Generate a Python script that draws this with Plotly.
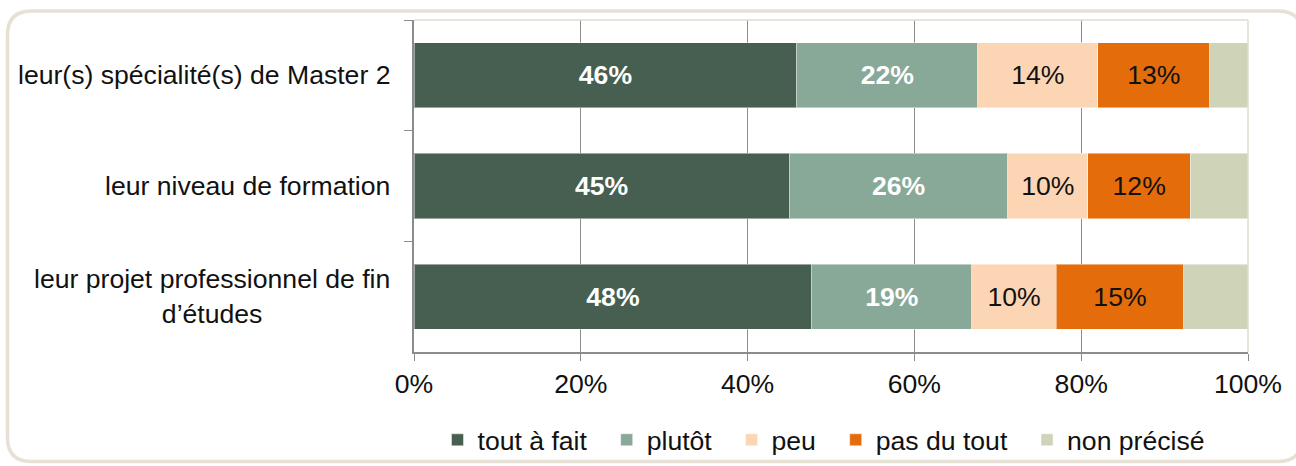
import plotly.graph_objects as go

# ---- data ----
categories = [
    "leur(s) spécialité(s) de Master 2",
    "leur niveau de formation",
    "leur projet professionnel de fin d’études",
]
category_labels = [
    "leur(s) spécialité(s) de Master 2",
    "leur niveau de formation",
    "leur projet professionnel de fin<br>d’études",
]
series_names = ["tout à fait", "plutôt", "peu", "pas du tout", "non précisé"]
tout_a_fait = [45.9, 45.0, 47.7]
plutot = [21.7, 26.2, 19.2]
peu = [14.4, 9.6, 10.1]
pas_du_tout = [13.4, 12.3, 15.3]
non_precise = [4.6, 6.9, 7.7]
x_tick_values = [0, 20, 40, 60, 80, 100]
x_tick_labels = ["0%", "20%", "40%", "60%", "80%", "100%"]

# ---- styles ----
series_values = [tout_a_fait, plutot, peu, pas_du_tout, non_precise]
colors = ["#465f50", "#88a898", "#fcd5b5", "#e46c0a", "#cfd4b9"]
label_colors = ["white", "white", "#111111", "#111111", None]
label_weights = ["bold", "bold", "normal", "normal", "normal"]

FONT = "Liberation Sans, Arial, sans-serif"
FS = 26.6
W, H = 1296, 466
ML, MR, MT, MB = 414, 48, 20, 114
PW, PH = W - ML - MR, H - MT - MB
LEGEND_PAD = "\u00a0\u00a0"

fig = go.Figure()
for name, vals, col, lc, lw in zip(series_names, series_values, colors, label_colors, label_weights):
    fig.add_trace(go.Bar(
        y=categories, x=vals, name=name + LEGEND_PAD, orientation="h",
        marker=dict(color=col, line=dict(color="rgba(255,255,255,0.45)", width=1)),
        text=[f"{v:.0f}%" for v in vals] if lc else None,
        textposition="inside" if lc else "none",
        insidetextanchor="middle",
        textangle=0,
        constraintext="none",
        insidetextfont=dict(family=FONT, size=FS, color=lc or "black", weight=lw),
        hoverinfo="skip",
    ))

# category labels (centered multi-line block, right edge near axis)
for cat, lab in zip(categories, category_labels):
    fig.add_annotation(
        x=0, xref="paper", y=cat, yref="y", text=lab, showarrow=False,
        xanchor="right", yanchor="middle", align="center", xshift=-22,
        font=dict(family=FONT, size=FS, color="#111111"),
    )

def px2paper(px, py):
    return (px - ML) / PW, (H - MB - py) / PH

def rounded_rect(x0, y0, x1, y1, r):
    def P(x, y):
        a, b = px2paper(x, y)
        return f"{a:.5f},{b:.5f}"
    return (
        f"M{P(x0 + r, y0)} L{P(x1 - r, y0)} Q{P(x1, y0)} {P(x1, y0 + r)} "
        f"L{P(x1, y1 - r)} Q{P(x1, y1)} {P(x1 - r, y1)} "
        f"L{P(x0 + r, y1)} Q{P(x0, y1)} {P(x0, y1 - r)} "
        f"L{P(x0, y0 + r)} Q{P(x0, y0)} {P(x0 + r, y0)} Z"
    )

# outer rounded frame
fig.add_shape(type="path", xref="paper", yref="paper",
              path=rounded_rect(7.5, 11, 1302, 461.5, 24),
              line=dict(color="#e6e0d5", width=3.5), layer="below")
# plot-area top and right borders (light)
fig.add_shape(type="line", xref="paper", yref="paper", x0=0, x1=1, y0=1, y1=1,
              line=dict(color="#e2ddd2", width=1.5))
fig.add_shape(type="line", xref="paper", yref="paper", x0=1, x1=1, y0=0, y1=1,
              line=dict(color="#e2ddd2", width=1.5))

legend_y = px2paper(0, 440)[1]

fig.update_layout(
    width=W, height=H, autosize=False,
    margin=dict(l=ML, r=MR, t=MT, b=MB, pad=0, autoexpand=False),
    barmode="stack", bargap=0.41,
    paper_bgcolor="white", plot_bgcolor="white",
    font=dict(family=FONT, size=FS, color="#111111"),
    showlegend=True,
    legend=dict(orientation="h", x=0.5, xanchor="center", y=legend_y, yanchor="middle",
                traceorder="normal", font=dict(family=FONT, size=FS, color="#111111"),
                bgcolor="rgba(0,0,0,0)", itemclick=False, itemdoubleclick=False),
    xaxis=dict(range=[0, 100], tickvals=x_tick_values, ticktext=x_tick_labels,
               showgrid=True, gridcolor="#8c8c8c", gridwidth=1.3,
               showline=True, linecolor="#8c8c8c", linewidth=1.5,
               ticks="outside", ticklen=7, tickcolor="#8c8c8c", tickwidth=1.3,
               zeroline=False, fixedrange=True, automargin=False,
               tickfont=dict(family=FONT, size=FS, color="#111111")),
    yaxis=dict(autorange="reversed", showticklabels=False, showgrid=False,
               showline=True, linecolor="#8c8c8c", linewidth=1.5,
               ticks="outside", ticklen=8, tickcolor="#8c8c8c", tickwidth=1.3,
               tickson="boundaries", zeroline=False, fixedrange=True, automargin=False),
)

page_fix = """
(function(){
  var b = document.body;
  b.style.margin = '0'; b.style.padding = '0'; b.style.overflow = 'hidden';
  document.documentElement.style.overflow = 'hidden';
})();
"""
fig.write_html("out.html", config={"displayModeBar": False}, post_script=page_fix)
